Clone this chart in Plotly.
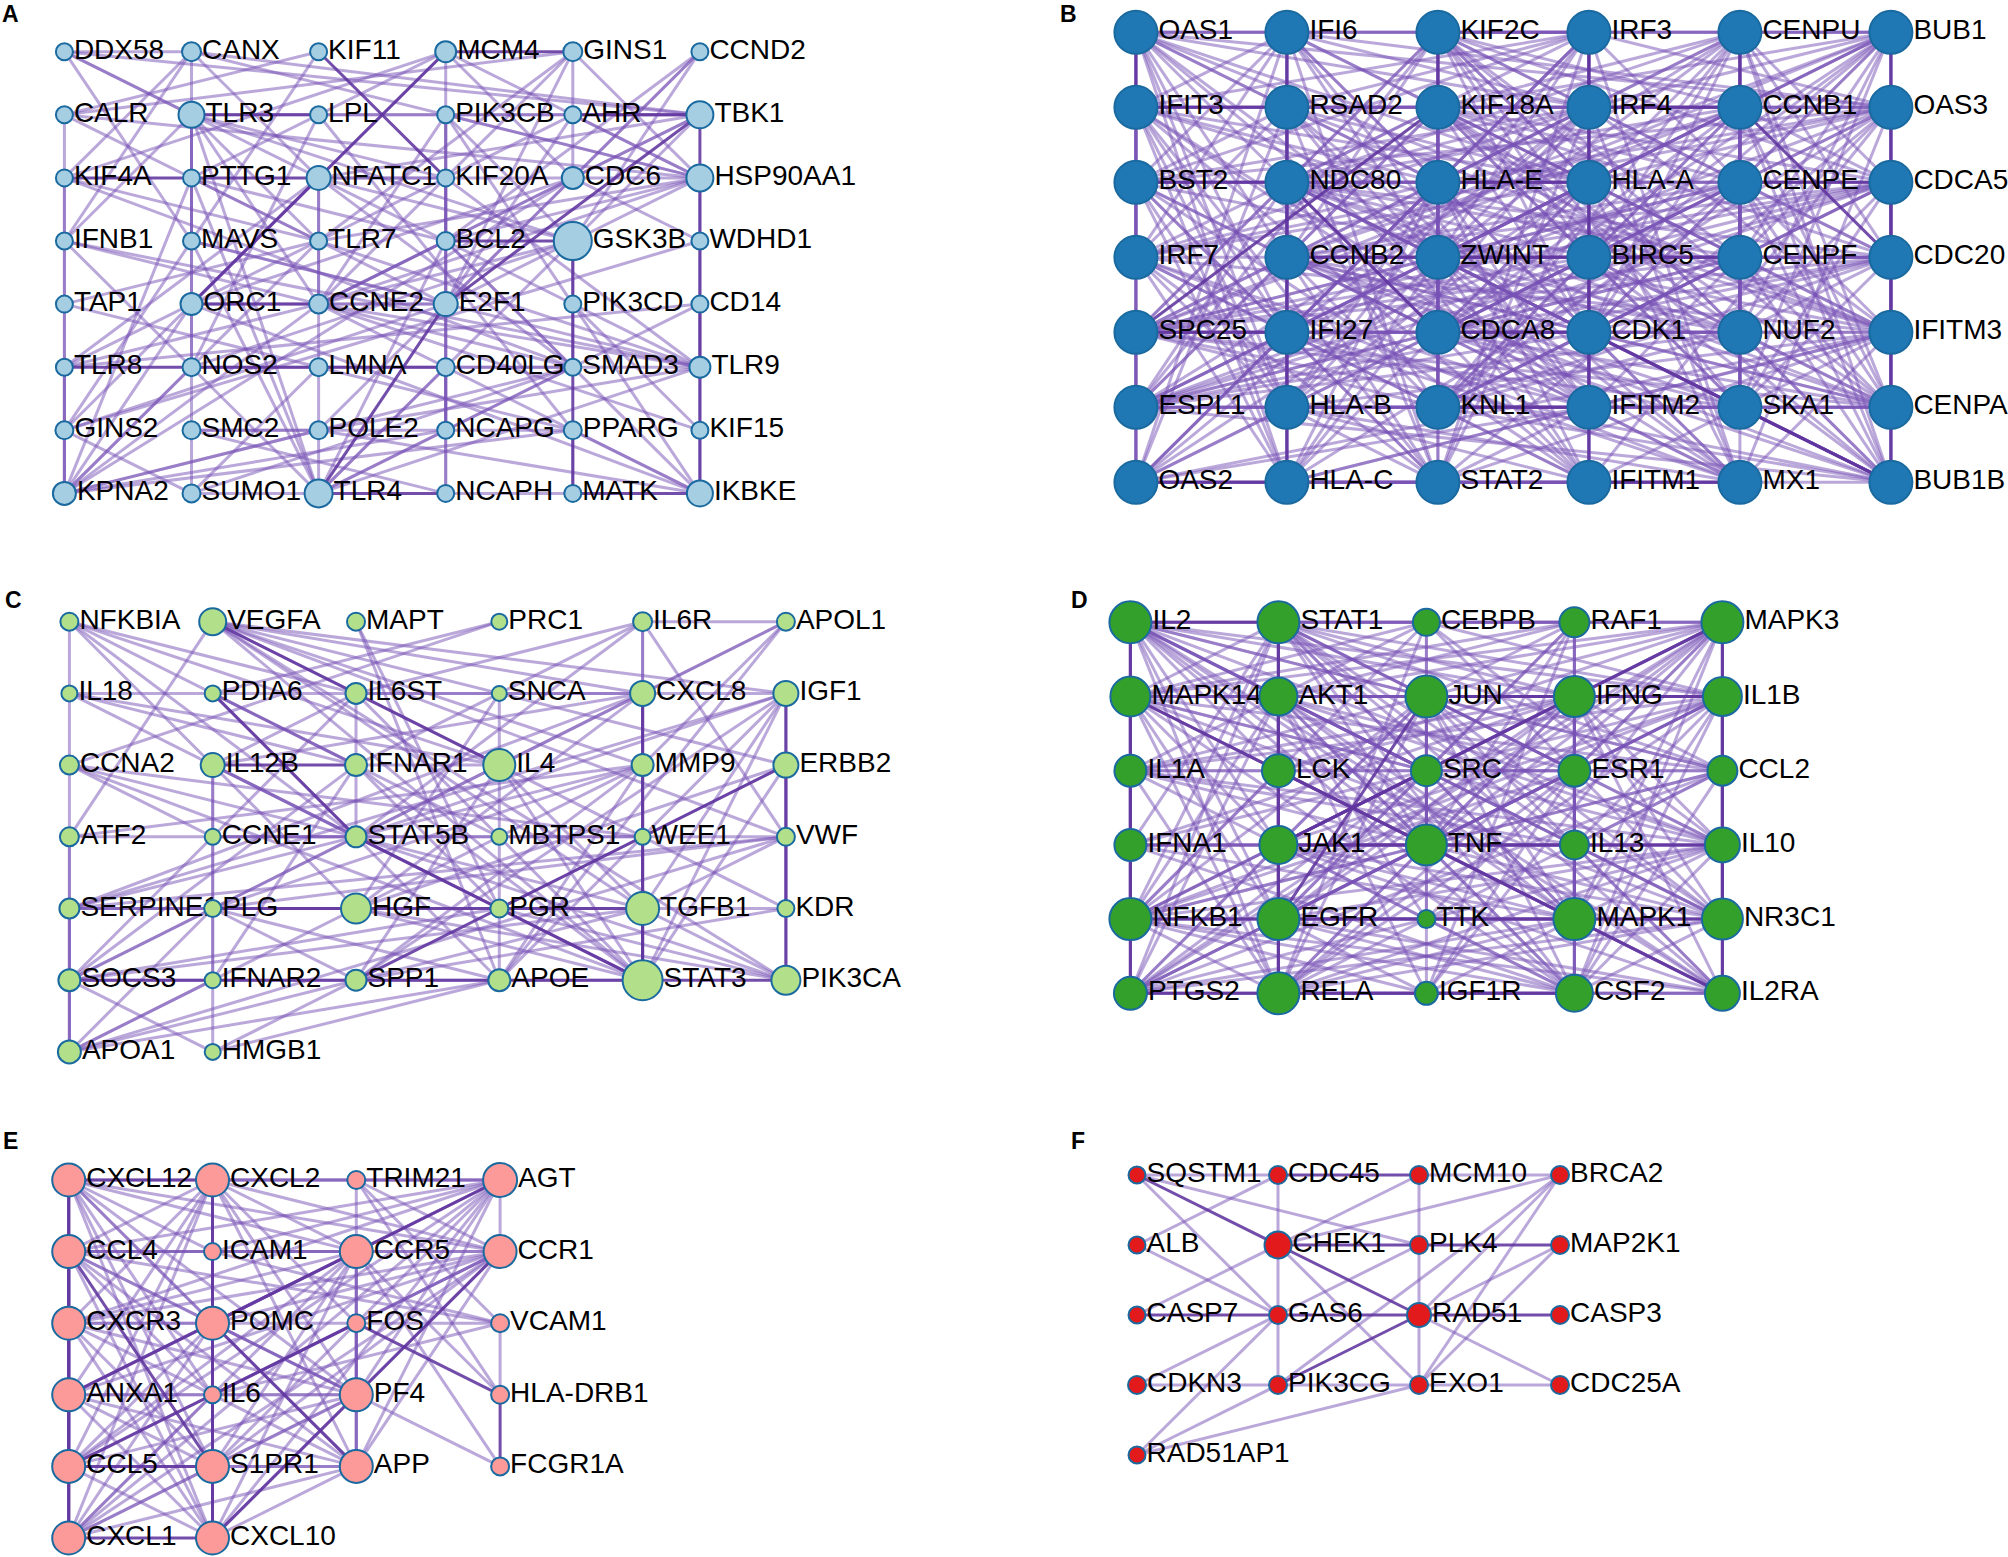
import itertools
import plotly.graph_objects as go

W, H = 2008, 1557

# ---------------- panel A ----------------
A_grid = [
    ["DDX58", "CANX", "KIF11", "MCM4", "GINS1", "CCND2"],
    ["CALR", "TLR3", "LPL", "PIK3CB", "AHR", "TBK1"],
    ["KIF4A", "PTTG1", "NFATC1", "KIF20A", "CDC6", "HSP90AA1"],
    ["IFNB1", "MAVS", "TLR7", "BCL2", "GSK3B", "WDHD1"],
    ["TAP1", "ORC1", "CCNE2", "E2F1", "PIK3CD", "CD14"],
    ["TLR8", "NOS2", "LMNA", "CD40LG", "SMAD3", "TLR9"],
    ["GINS2", "SMC2", "POLE2", "NCAPG", "PPARG", "KIF15"],
    ["KPNA2", "SUMO1", "TLR4", "NCAPH", "MATK", "IKBKE"],
]
A_sizes = [
    [17, 19, 17, 21, 19, 17],
    [17, 26, 17, 17, 17, 27],
    [17, 17, 24, 17, 22, 27],
    [17, 17, 17, 18, 38, 17],
    [17, 22, 19, 24, 17, 17],
    [17, 18, 18, 18, 17, 21],
    [18, 18, 18, 17, 18, 17],
    [23, 18, 28, 17, 17, 26],
]
A_links = [
    ("DDX58", "CANX"), ("DDX58", "TLR3"), ("DDX58", "NFATC1"), ("DDX58", "MAVS"), ("DDX58", "TBK1"),
    ("CANX", "KIF4A"), ("CANX", "IFNB1"), ("CANX", "TBK1"), ("CANX", "HSP90AA1"), ("CANX", "NFATC1"), ("CANX", "TLR3"),
    ("KIF11", "CALR"), ("KIF11", "GINS2"),
    ("MCM4", "CDC6"), ("MCM4", "HSP90AA1"), ("MCM4", "KIF4A"), ("MCM4", "E2F1"), ("MCM4", "PTTG1"), ("MCM4", "GINS2"),
    ("GINS1", "CDC6"), ("GINS1", "HSP90AA1"), ("GINS1", "KIF20A"), ("GINS1", "E2F1"), ("GINS1", "TLR7"), ("GINS1", "CALR"),
    ("CCND2", "E2F1"), ("CCND2", "CDC6"), ("CCND2", "BCL2"), ("CCND2", "GSK3B"),
    ("CALR", "GINS2"), ("CALR", "TLR7"), ("CALR", "HSP90AA1"),
    ("TLR3", "MAVS"), ("TLR3", "TLR7"), ("TLR3", "TBK1"), ("TLR3", "GSK3B"), ("TLR3", "IFNB1"), ("TLR3", "SMC2"),
    ("TLR3", "CCNE2"), ("TLR3", "KIF20A"), ("TLR3", "NOS2"), ("TLR3", "TLR4"),
    ("LPL", "TBK1"), ("LPL", "PPARG"), ("LPL", "NOS2"),
    ("PIK3CB", "BCL2"), ("PIK3CB", "GSK3B"), ("PIK3CB", "HSP90AA1"), ("PIK3CB", "PIK3CD"), ("PIK3CB", "CCNE2"), ("PIK3CB", "NCAPG"),
    ("AHR", "HSP90AA1"), ("AHR", "E2F1"), ("AHR", "TLR7"),
    ("TBK1", "NFATC1"), ("TBK1", "CDC6"), ("TBK1", "GSK3B"), ("TBK1", "CCNE2"),
    ("KIF4A", "TLR7"), ("KIF4A", "SMAD3"), ("KIF4A", "KPNA2"),
    ("PTTG1", "BCL2"), ("PTTG1", "TLR4"), ("PTTG1", "E2F1"), ("PTTG1", "KPNA2"),
    ("NFATC1", "KIF20A"), ("NFATC1", "GSK3B"), ("NFATC1", "SMAD3"), ("NFATC1", "ORC1"), ("NFATC1", "TLR8"),
    ("NFATC1", "TLR9"), ("NFATC1", "CCNE2"), ("NFATC1", "TLR4"),
    ("KIF20A", "TLR9"), ("KIF20A", "NCAPG"), ("KIF20A", "CCNE2"),
    ("CDC6", "ORC1"), ("CDC6", "CCNE2"), ("CDC6", "E2F1"), ("CDC6", "KPNA2"),
    ("HSP90AA1", "BCL2"), ("HSP90AA1", "GSK3B"), ("HSP90AA1", "CCNE2"), ("HSP90AA1", "TLR7"), ("HSP90AA1", "NFATC1"), ("HSP90AA1", "IKBKE"),
    ("IFNB1", "TLR9"), ("IFNB1", "SMAD3"), ("IFNB1", "TLR4"),
    ("MAVS", "TLR4"), ("MAVS", "E2F1"), ("MAVS", "TLR9"),
    ("TLR7", "TLR8"), ("TLR7", "TLR9"), ("TLR7", "KPNA2"),
    ("BCL2", "SMAD3"), ("BCL2", "CCNE2"), ("BCL2", "IKBKE"), ("BCL2", "TLR4"),
    ("GSK3B", "CCNE2"), ("GSK3B", "E2F1"), ("GSK3B", "SMAD3"), ("GSK3B", "NOS2"), ("GSK3B", "TLR4"),
    ("TAP1", "TLR7"), ("TAP1", "PPARG"),
    ("ORC1", "KPNA2"), ("ORC1", "E2F1"), ("ORC1", "IKBKE"),
    ("CCNE2", "E2F1"), ("CCNE2", "KPNA2"), ("CCNE2", "TLR9"), ("CCNE2", "TLR8"), ("CCNE2", "IKBKE"),
    ("E2F1", "GINS2"), ("E2F1", "POLE2"), ("E2F1", "NCAPH"),
    ("PIK3CD", "IKBKE"), ("PIK3CD", "KIF15"),
    ("CD14", "TLR4"), ("CD14", "TLR8"), ("CD14", "TLR9"),
    ("TLR8", "KPNA2"), ("NOS2", "KPNA2"), ("NOS2", "SMAD3"), ("LMNA", "SUMO1"),
    ("CD40LG", "SMAD3"), ("CD40LG", "NCAPG"), ("CD40LG", "TLR4"),
    ("SMAD3", "SUMO1"), ("SMAD3", "TLR4"), ("SMAD3", "TLR9"), ("SMAD3", "KPNA2"),
    ("TLR9", "TLR4"), ("TLR9", "POLE2"),
    ("GINS2", "KPNA2"), ("GINS2", "SUMO1"),
    ("SMC2", "POLE2"), ("SMC2", "NCAPH"), ("SMC2", "NCAPG"), ("SMC2", "SUMO1"),
    ("POLE2", "KPNA2"), ("POLE2", "IKBKE"),
    ("NCAPG", "NCAPH"), ("NCAPG", "PPARG"), ("NCAPG", "KPNA2"),
    ("PPARG", "IKBKE"), ("PPARG", "KPNA2"), ("PPARG", "MATK"),
    ("NCAPH", "MATK"), ("SUMO1", "TLR4"), ("WDHD1", "CDC6"), ("WDHD1", "GINS2"), ("KIF15", "CCNE2"),
]
A_strong = [
    ("MCM4", "GINS1"), ("MCM4", "ORC1"), ("TLR3", "LPL"), ("AHR", "TBK1"), ("TBK1", "E2F1"), ("TBK1", "IKBKE"),
    ("KIF4A", "PTTG1"), ("PTTG1", "NFATC1"), ("KIF11", "KIF20A"), ("BCL2", "GSK3B"), ("GSK3B", "MATK"),
    ("ORC1", "CCNE2"), ("E2F1", "TLR4"), ("TLR8", "NOS2"), ("NOS2", "LMNA"), ("LMNA", "CD40LG"),
    ("TLR4", "NCAPH"), ("MATK", "IKBKE"),
]

# ---------------- panel B ----------------
B_grid = [
    ["OAS1", "IFI6", "KIF2C", "IRF3", "CENPU", "BUB1"],
    ["IFIT3", "RSAD2", "KIF18A", "IRF4", "CCNB1", "OAS3"],
    ["BST2", "NDC80", "HLA-E", "HLA-A", "CENPE", "CDCA5"],
    ["IRF7", "CCNB2", "ZWINT", "BIRC5", "CENPF", "CDC20"],
    ["SPC25", "IFI27", "CDCA8", "CDK1", "NUF2", "IFITM3"],
    ["ESPL1", "HLA-B", "KNL1", "IFITM2", "SKA1", "CENPA"],
    ["OAS2", "HLA-C", "STAT2", "IFITM1", "MX1", "BUB1B"],
]
B_sizes = [[43] * 6 for _ in range(7)]
# densely interconnected gene modules (every member linked to every other)
B_interferon = ["OAS1", "IFI6", "IRF3", "IFIT3", "RSAD2", "IRF4", "BST2", "HLA-E", "HLA-A", "IRF7",
                "IFI27", "HLA-B", "IFITM2", "IFITM3", "OAS2", "HLA-C", "STAT2", "IFITM1", "MX1", "OAS3"]
B_cellcycle = ["KIF2C", "CENPU", "BUB1", "KIF18A", "CCNB1", "NDC80", "CENPE", "CDCA5", "CCNB2", "ZWINT", "BIRC5",
               "CENPF", "CDC20", "SPC25", "CDCA8", "CDK1", "NUF2", "ESPL1", "KNL1", "SKA1", "CENPA", "BUB1B"]
B_links = [
    ("KIF2C", "STAT2"), ("CENPU", "MX1"), ("OAS1", "BUB1"), ("IRF7", "CDC20"), ("SPC25", "IFITM3"),
    ("ESPL1", "CENPA"), ("OAS2", "BUB1B"), ("BST2", "CDCA5"), ("IFIT3", "KIF18A"), ("HLA-B", "KNL1"),
]
B_strong = [
    ("OAS1", "IFIT3"), ("IFIT3", "RSAD2"), ("OAS2", "HLA-C"), ("HLA-E", "HLA-A"), ("ZWINT", "BIRC5"),
    ("BIRC5", "CENPF"), ("CDCA8", "CDK1"), ("KNL1", "IFITM2"), ("IRF4", "CCNB1"), ("CENPE", "CDCA5"),
    ("NDC80", "CDCA8"), ("CDK1", "BUB1B"), ("SKA1", "BUB1B"), ("CCNB2", "ZWINT"), ("SPC25", "IFI27"),
    ("IFITM1", "MX1"), ("BST2", "NDC80"), ("CENPU", "CCNB1"), ("KIF2C", "KIF18A"), ("IRF3", "IRF4"),
    ("IFI6", "HLA-C"), ("IRF3", "IFITM1"), ("BUB1", "BUB1B"), ("SPC25", "KIF18A"), ("CCNB1", "CDC20"),
]

# ---------------- panel C ----------------
C_grid = [
    ["NFKBIA", "VEGFA", "MAPT", "PRC1", "IL6R", "APOL1"],
    ["IL18", "PDIA6", "IL6ST", "SNCA", "CXCL8", "IGF1"],
    ["CCNA2", "IL12B", "IFNAR1", "IL4", "MMP9", "ERBB2"],
    ["ATF2", "CCNE1", "STAT5B", "MBTPS1", "WEE1", "VWF"],
    ["SERPINE1", "PLG", "HGF", "PGR", "TGFB1", "KDR"],
    ["SOCS3", "IFNAR2", "SPP1", "APOE", "STAT3", "PIK3CA"],
    ["APOA1", "HMGB1"],
]
C_sizes = [
    [18, 27, 18, 16, 19, 18],
    [16, 16, 21, 15, 25, 25],
    [19, 24, 22, 32, 22, 25],
    [19, 16, 21, 16, 16, 18],
    [20, 17, 30, 18, 33, 17],
    [22, 16, 21, 22, 40, 29],
    [23, 16],
]
C_links = [
    ("NFKBIA", "ATF2"), ("ATF2", "APOA1"), ("IL12B", "PLG"), ("PLG", "HMGB1"), ("SNCA", "APOE"),
    ("IL6R", "CXCL8"), ("ERBB2", "KDR"), ("IL6R", "APOL1"), ("IFNAR1", "IL4"), ("CCNE1", "STAT5B"),
    ("SERPINE1", "PLG"), ("TGFB1", "KDR"), ("WEE1", "VWF"),
    ("NFKBIA", "IFNAR1"), ("NFKBIA", "IL4"), ("NFKBIA", "STAT5B"), ("NFKBIA", "IL6ST"), ("NFKBIA", "HGF"),
    ("VEGFA", "CXCL8"), ("VEGFA", "IGF1"), ("VEGFA", "MMP9"), ("VEGFA", "ERBB2"), ("VEGFA", "TGFB1"),
    ("VEGFA", "STAT3"), ("VEGFA", "KDR"), ("VEGFA", "VWF"), ("VEGFA", "ATF2"), ("VEGFA", "PIK3CA"),
    ("MAPT", "APOE"), ("MAPT", "PGR"), ("PRC1", "PDIA6"), ("PRC1", "CCNA2"),
    ("IL6R", "IL6ST"), ("IL6R", "STAT3"), ("IL6R", "IFNAR1"), ("IL6R", "VWF"), ("IL6R", "STAT5B"),
    ("APOL1", "CXCL8"), ("APOL1", "APOE"), ("APOL1", "IL4"), ("APOL1", "MMP9"),
    ("IL18", "IL4"), ("IL18", "STAT3"), ("IL18", "CXCL8"), ("IL18", "IFNAR1"),
    ("PDIA6", "MBTPS1"), ("PDIA6", "IFNAR1"), ("PDIA6", "APOE"),
    ("IL6ST", "STAT3"), ("IL6ST", "IL12B"), ("IL6ST", "STAT5B"), ("IL6ST", "SOCS3"), ("IL6ST", "IGF1"),
    ("SNCA", "HGF"),
    ("CXCL8", "MMP9"), ("CXCL8", "TGFB1"), ("CXCL8", "SERPINE1"), ("CXCL8", "HGF"), ("CXCL8", "IL4"), ("CXCL8", "IL12B"),
    ("IGF1", "STAT5B"), ("IGF1", "STAT3"), ("IGF1", "TGFB1"), ("IGF1", "SPP1"), ("IGF1", "ERBB2"),
    ("IGF1", "SERPINE1"), ("IGF1", "APOE"),
    ("CCNA2", "CCNE1"), ("CCNA2", "WEE1"), ("CCNA2", "STAT3"), ("CCNA2", "TGFB1"),
    ("IL12B", "STAT5B"), ("IL12B", "IFNAR2"), ("IL12B", "STAT3"),
    ("IFNAR1", "IFNAR2"), ("IFNAR1", "SOCS3"), ("IFNAR1", "PGR"), ("IFNAR1", "STAT3"),
    ("IL4", "STAT5B"), ("IL4", "STAT3"), ("IL4", "SOCS3"), ("IL4", "TGFB1"), ("IL4", "SPP1"),
    ("MMP9", "TGFB1"), ("MMP9", "PLG"), ("MMP9", "SPP1"), ("MMP9", "HGF"), ("MMP9", "SERPINE1"),
    ("MMP9", "APOE"), ("MMP9", "ATF2"),
    ("ERBB2", "PIK3CA"), ("ERBB2", "STAT3"), ("ERBB2", "PGR"), ("ERBB2", "HGF"),
    ("ATF2", "SOCS3"), ("ATF2", "WEE1"), ("CCNE1", "WEE1"),
    ("STAT5B", "SOCS3"), ("STAT5B", "PIK3CA"),
    ("VWF", "SERPINE1"), ("VWF", "PLG"), ("VWF", "TGFB1"), ("VWF", "APOA1"),
    ("SERPINE1", "TGFB1"), ("SERPINE1", "APOA1"), ("SERPINE1", "HGF"),
    ("PLG", "APOA1"), ("PLG", "APOE"), ("PLG", "SPP1"),
    ("HGF", "STAT3"), ("HGF", "APOA1"), ("HGF", "PIK3CA"),
    ("PGR", "PIK3CA"), ("PGR", "SOCS3"),
    ("TGFB1", "PIK3CA"), ("TGFB1", "SOCS3"), ("TGFB1", "SPP1"), ("KDR", "SPP1"),
    ("SOCS3", "APOA1"), ("SOCS3", "STAT3"), ("SPP1", "APOA1"), ("APOE", "APOA1"),
    ("APOE", "HMGB1"), ("SPP1", "HMGB1"), ("HMGB1", "SOCS3"), ("IFNAR2", "APOA1"),
]
C_strong = [
    ("IL12B", "IFNAR1"), ("PLG", "HGF"), ("HGF", "PGR"), ("PGR", "TGFB1"), ("SOCS3", "IFNAR2"),
    ("IFNAR2", "SPP1"), ("SPP1", "APOE"), ("APOE", "STAT3"), ("STAT3", "PIK3CA"), ("STAT5B", "STAT3"),
    ("VEGFA", "IL4"), ("IGF1", "PIK3CA"), ("CXCL8", "STAT3"), ("TGFB1", "STAT3"), ("SPP1", "ERBB2"),
    ("PDIA6", "STAT5B"),
]

# ---------------- panel D ----------------
D_grid = [
    ["IL2", "STAT1", "CEBPB", "RAF1", "MAPK3"],
    ["MAPK14", "AKT1", "JUN", "IFNG", "IL1B"],
    ["IL1A", "LCK", "SRC", "ESR1", "CCL2"],
    ["IFNA1", "JAK1", "TNF", "IL13", "IL10"],
    ["NFKB1", "EGFR", "TTK", "MAPK1", "NR3C1"],
    ["PTGS2", "RELA", "IGF1R", "CSF2", "IL2RA"],
]
D_sizes = [
    [42, 42, 27, 30, 42],
    [40, 38, 42, 41, 39],
    [32, 33, 31, 32, 30],
    [32, 38, 41, 29, 35],
    [42, 42, 18, 42, 41],
    [33, 42, 23, 37, 35],
]
# hub genes, every hub linked to every other hub
D_hubs = ["IL2", "STAT1", "MAPK3", "MAPK14", "AKT1", "JUN", "IFNG", "IL1B", "NFKB1", "EGFR",
          "RELA", "MAPK1", "NR3C1", "TNF", "JAK1", "IL10", "CSF2", "IL2RA", "PTGS2"]
D_links = [
    ("CEBPB", "STAT1"), ("CEBPB", "RAF1"), ("CEBPB", "JUN"), ("CEBPB", "TNF"), ("CEBPB", "IL1B"),
    ("CEBPB", "NFKB1"), ("CEBPB", "RELA"), ("CEBPB", "IL10"), ("CEBPB", "MAPK14"), ("CEBPB", "IL1A"),
    ("CEBPB", "ESR1"),
    ("RAF1", "MAPK3"), ("RAF1", "MAPK1"), ("RAF1", "AKT1"), ("RAF1", "EGFR"), ("RAF1", "SRC"), ("RAF1", "JUN"),
    ("RAF1", "IL2"), ("RAF1", "ESR1"), ("RAF1", "IGF1R"), ("RAF1", "TNF"), ("RAF1", "CSF2"), ("RAF1", "MAPK14"),
    ("IL1A", "IL1B"), ("IL1A", "TNF"), ("IL1A", "IL2"), ("IL1A", "IL10"), ("IL1A", "IFNG"), ("IL1A", "CCL2"),
    ("IL1A", "NFKB1"), ("IL1A", "RELA"), ("IL1A", "IL13"), ("IL1A", "CSF2"), ("IL1A", "PTGS2"),
    ("IL1A", "IFNA1"), ("IL1A", "LCK"), ("IL1A", "MAPK14"), ("IL1A", "JUN"),
    ("LCK", "IL2"), ("LCK", "STAT1"), ("LCK", "AKT1"), ("LCK", "SRC"), ("LCK", "JAK1"), ("LCK", "EGFR"),
    ("LCK", "MAPK1"), ("LCK", "MAPK3"), ("LCK", "IFNG"), ("LCK", "IL2RA"), ("LCK", "NFKB1"),
    ("LCK", "RELA"),
    ("SRC", "EGFR"), ("SRC", "AKT1"), ("SRC", "MAPK1"), ("SRC", "MAPK3"), ("SRC", "STAT1"),
    ("SRC", "ESR1"), ("SRC", "IGF1R"), ("SRC", "JUN"), ("SRC", "TNF"), ("SRC", "PTGS2"), ("SRC", "MAPK14"),
    ("SRC", "IL2"), ("SRC", "CCL2"),
    ("ESR1", "EGFR"), ("ESR1", "AKT1"), ("ESR1", "MAPK1"), ("ESR1", "MAPK3"), ("ESR1", "JUN"), ("ESR1", "NR3C1"),
    ("ESR1", "IGF1R"), ("ESR1", "TNF"), ("ESR1", "IL1B"), ("ESR1", "NFKB1"), ("ESR1", "STAT1"), ("ESR1", "RELA"),
    ("CCL2", "IL1B"), ("CCL2", "TNF"), ("CCL2", "IL10"), ("CCL2", "IFNG"), ("CCL2", "IL2"), ("CCL2", "NFKB1"),
    ("CCL2", "JUN"), ("CCL2", "IL13"), ("CCL2", "CSF2"), ("CCL2", "STAT1"), ("CCL2", "PTGS2"),
    ("CCL2", "MAPK14"), ("CCL2", "RELA"),
    ("IFNA1", "STAT1"), ("IFNA1", "JAK1"), ("IFNA1", "IFNG"), ("IFNA1", "IL2"), ("IFNA1", "TNF"),
    ("IFNA1", "IL10"), ("IFNA1", "IL1B"), ("IFNA1", "NFKB1"), ("IFNA1", "IL13"), ("IFNA1", "CSF2"),
    ("IFNA1", "MAPK1"),
    ("IL13", "IL2"), ("IL13", "IL10"), ("IL13", "IFNG"), ("IL13", "TNF"), ("IL13", "IL1B"), ("IL13", "CSF2"),
    ("IL13", "JAK1"), ("IL13", "STAT1"), ("IL13", "IL2RA"), ("IL13", "NR3C1"), ("IL13", "MAPK1"),
    ("TTK", "AKT1"), ("TTK", "JUN"), ("TTK", "MAPK3"),
    ("IGF1R", "AKT1"), ("IGF1R", "EGFR"), ("IGF1R", "MAPK1"),
    ("IGF1R", "MAPK3"), ("IGF1R", "NFKB1"),
]
D_strong = [
    ("MAPK14", "TNF"), ("TNF", "MAPK1"), ("JAK1", "TNF"), ("TNF", "IL13"), ("IL13", "IL10"),
    ("NFKB1", "EGFR"), ("EGFR", "TTK"), ("TTK", "MAPK1"), ("MAPK1", "NR3C1"), ("RELA", "IGF1R"),
    ("IGF1R", "CSF2"), ("PTGS2", "RELA"), ("MAPK3", "IFNG"), ("SRC", "JAK1"), ("IFNG", "JAK1"),
    ("MAPK1", "IL2RA"), ("STAT1", "RELA"), ("IL2", "STAT1"), ("JUN", "IFNG"), ("IFNG", "IL1B"),
    ("MAPK3", "IL2RA"), ("EGFR", "JUN"), ("IL2", "PTGS2"),
]

# ---------------- panel E ----------------
E_grid = [
    ["CXCL12", "CXCL2", "TRIM21", "AGT"],
    ["CCL4", "ICAM1", "CCR5", "CCR1"],
    ["CXCR3", "POMC", "FOS", "VCAM1"],
    ["ANXA1", "IL6", "PF4", "HLA-DRB1"],
    ["CCL5", "S1PR1", "APP", "FCGR1A"],
    ["CXCL1", "CXCL10"],
]
E_sizes = [
    [33, 33, 18, 34],
    [33, 17, 33, 33],
    [33, 33, 18, 18],
    [33, 17, 33, 18],
    [33, 33, 33, 18],
    [33, 33],
]
# chemokine / GPCR-ligand module, fully interlinked
E_module = ["CXCL12", "CXCL2", "AGT", "CCL4", "CCR5", "CCR1", "CXCR3", "POMC",
            "ANXA1", "PF4", "CCL5", "S1PR1", "APP", "CXCL1", "CXCL10"]
E_links = [
    ("TRIM21", "CXCL2"), ("TRIM21", "AGT"), ("TRIM21", "CCR5"), ("TRIM21", "VCAM1"), ("TRIM21", "HLA-DRB1"),
    ("TRIM21", "CCR1"),
    ("ICAM1", "CCL4"), ("ICAM1", "CCR5"), ("ICAM1", "VCAM1"), ("ICAM1", "IL6"), ("ICAM1", "CXCL12"), ("ICAM1", "AGT"),
    ("FOS", "IL6"), ("FOS", "CCR5"), ("FOS", "PF4"), ("FOS", "CXCL2"), ("FOS", "APP"), ("FOS", "CCR1"),
    ("IL6", "ANXA1"), ("IL6", "PF4"), ("IL6", "CCR1"), ("IL6", "VCAM1"), ("IL6", "CXCL10"), ("IL6", "CCL4"),
    ("IL6", "CXCL12"), ("IL6", "S1PR1"), ("IL6", "CXCL1"),
    ("VCAM1", "CCL4"), ("VCAM1", "CXCR3"), ("VCAM1", "HLA-DRB1"),
    ("HLA-DRB1", "CCR5"), ("FCGR1A", "POMC"), ("FCGR1A", "CCR5"),
]
E_strong = [
    ("CXCL12", "CXCL2"), ("CXCL12", "CXCL1"), ("CXCL2", "CXCL10"), ("CXCL1", "CXCL10"), ("ANXA1", "POMC"),
    ("FOS", "CCL5"), ("FOS", "HLA-DRB1"), ("AGT", "CCR5"), ("CCR5", "POMC"), ("POMC", "APP"),
    ("CCL5", "S1PR1"), ("CCR1", "PF4"), ("HLA-DRB1", "FCGR1A"), ("CCL4", "S1PR1"), ("CXCL10", "PF4"),
]

# ---------------- panel F ----------------
F_grid = [
    ["SQSTM1", "CDC45", "MCM10", "BRCA2"],
    ["ALB", "CHEK1", "PLK4", "MAP2K1"],
    ["CASP7", "GAS6", "RAD51", "CASP3"],
    ["CDKN3", "PIK3CG", "EXO1", "CDC25A"],
    ["RAD51AP1"],
]
F_sizes = [
    [17, 18, 18, 18],
    [17, 27, 18, 18],
    [17, 18, 24, 18],
    [18, 18, 18, 18],
    [17],
]
F_links = [
    ("SQSTM1", "CDC45"), ("MCM10", "BRCA2"), ("SQSTM1", "PLK4"), ("SQSTM1", "GAS6"),
    ("ALB", "CDC45"), ("ALB", "GAS6"), ("CASP7", "CHEK1"),
    ("CDC45", "CHEK1"), ("CHEK1", "GAS6"), ("GAS6", "PIK3CG"),
    ("MCM10", "PLK4"), ("PLK4", "RAD51"), ("RAD51", "EXO1"),
    ("CHEK1", "MCM10"), ("CHEK1", "BRCA2"), ("CHEK1", "EXO1"),
    ("GAS6", "PLK4"), ("GAS6", "CDKN3"),
    ("RAD51", "BRCA2"), ("RAD51", "MAP2K1"), ("RAD51", "CDC25A"),
    ("RAD51AP1", "PIK3CG"), ("RAD51AP1", "EXO1"), ("RAD51AP1", "GAS6"),
    ("EXO1", "BRCA2"), ("EXO1", "MAP2K1"), ("EXO1", "CDC25A"), ("PIK3CG", "EXO1"), ("CDKN3", "PIK3CG"),
    ("PIK3CG", "BRCA2"),
]
F_strong = [
    ("SQSTM1", "CHEK1"), ("CHEK1", "RAD51"), ("RAD51", "PIK3CG"), ("CASP7", "GAS6"), ("GAS6", "RAD51"),
    ("RAD51", "CASP3"), ("CHEK1", "PLK4"), ("PLK4", "MAP2K1"), ("CDC45", "MCM10"),
]

# ---------------- drawing ----------------
LIGHT = dict(color="rgba(120,82,182,0.50)", width=3)
DARK = dict(color="rgba(96,52,158,0.88)", width=3)
BORDER = "#1a6aa0"
FONT = "Liberation Sans, Arial, sans-serif"
LABEL_GAP = 0.8   # label offset relative to node size

panels = [
    # letter, grid, sizes, light, strong, fill, (x0, dx, y0, dy), letter position
    ("A", A_grid, A_sizes, A_links, A_strong, "#a6cee3", (64.4, 127.1, 51.7, 63.1), (0, 14)),
    ("B", B_grid, B_sizes,
     list(itertools.combinations(B_interferon, 2)) + list(itertools.combinations(B_cellcycle, 2)) + B_links,
     B_strong, "#1f78b4", (1135.9, 151.0, 32.3, 75.0), (1058, 14)),
    ("C", C_grid, C_sizes, C_links, C_strong, "#b2df8a", (69.4, 143.3, 621.7, 71.7), (3, 600)),
    ("D", D_grid, D_sizes, list(itertools.combinations(D_hubs, 2)) + D_links, D_strong, "#33a02c",
     (1130.4, 148.0, 622.3, 74.2), (1069, 600)),
    ("E", E_grid, E_sizes, list(itertools.combinations(E_module, 2)) + E_links, E_strong, "#fb9a99",
     (68.7, 143.8, 1180.0, 71.6), (1, 1141)),
    ("F", F_grid, F_sizes, F_links, F_strong, "#e31a1c", (1137.0, 141.0, 1175.0, 70.0), (1069, 1141)),
]

fig = go.Figure()
annotations = []
for k, (letter, grid, sizes, light, strong, fill, geo, lpos) in enumerate(panels):
    ax = "" if k == 0 else str(k + 1)
    pos = {}
    names, xs, ys, ss = [], [], [], []
    for r, row in enumerate(grid):
        for c, name in enumerate(row):
            pos[name] = (c, r)
            names.append(name)
            xs.append(c)
            ys.append(r)
            ss.append(sizes[r][c])

    strong_set = {frozenset(p) for p in strong}
    light = [p for p in light if frozenset(p) not in strong_set]

    for pairs, style in ((light, LIGHT), (strong, DARK)):
        ex, ey = [], []
        for a, b in pairs:
            ex += [pos[a][0], pos[b][0], None]
            ey += [pos[a][1], pos[b][1], None]
        fig.add_trace(go.Scatter(x=ex, y=ey, mode="lines", line=style, hoverinfo="skip",
                                 xaxis="x" + ax, yaxis="y" + ax))

    # labels first, then the nodes so that nodes sit on top of neighbouring labels
    fig.add_trace(go.Scatter(x=xs, y=ys, mode="markers+text", text=names, textposition="middle right",
                             textfont=dict(family=FONT, size=28, color="black"),
                             marker=dict(size=[s * LABEL_GAP for s in ss], color="rgba(0,0,0,0)",
                                         opacity=1, line=dict(width=0)),
                             hoverinfo="skip", xaxis="x" + ax, yaxis="y" + ax))
    fig.add_trace(go.Scatter(x=xs, y=ys, mode="markers",
                             marker=dict(size=ss, color=fill, opacity=1, line=dict(color=BORDER, width=2)),
                             hoverinfo="skip", xaxis="x" + ax, yaxis="y" + ax))

    x0, dx, y0, dy = geo
    axis = dict(domain=[0, 1], visible=False, showgrid=False, zeroline=False, fixedrange=True)
    fig.update_layout(**{
        "xaxis" + ax: dict(axis, range=[-x0 / dx, (W - x0) / dx], anchor="y" + ax),
        "yaxis" + ax: dict(axis, range=[(H - y0) / dy, -y0 / dy], anchor="x" + ax),
    })
    annotations.append(dict(text="<b>%s</b>" % letter, x=lpos[0] / W, y=1 - lpos[1] / H,
                            xref="paper", yref="paper", xanchor="left", yanchor="middle",
                            showarrow=False, font=dict(family=FONT, size=23, color="black")))

fig.update_layout(width=W, height=H, margin=dict(l=0, r=0, t=0, b=0),
                  paper_bgcolor="white", plot_bgcolor="rgba(0,0,0,0)", showlegend=False,
                  hovermode=False, annotations=annotations)

fig.write_html("out.html", config={"displayModeBar": False},
               post_script="document.body.style.margin='0';")
